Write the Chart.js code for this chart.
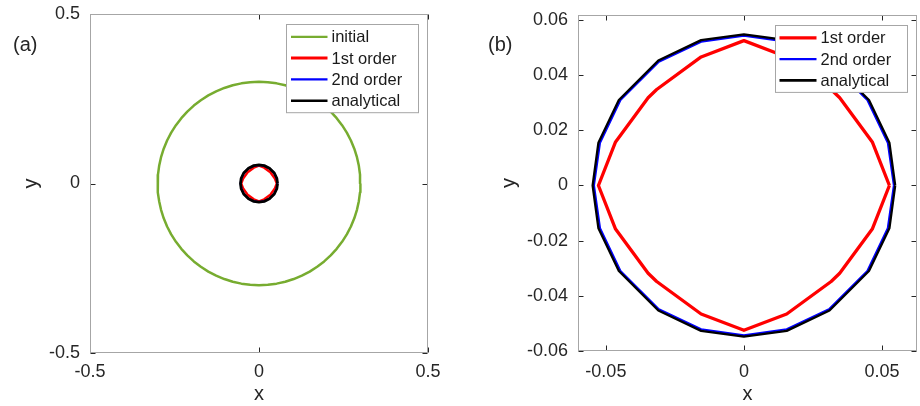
<!DOCTYPE html>
<html><head><meta charset="utf-8">
<script src="https://cdn.jsdelivr.net/npm/chart.js@4"></script>
<style>
html,body{margin:0;padding:0;background:#fff;width:920px;height:406px;overflow:hidden}
.w{position:absolute;top:0;width:460px;height:406px}
#wa{left:0}
#wb{left:460px}
</style></head><body>
<div class="w" id="wa"><canvas id="ca" width="460" height="406"></canvas></div>
<div class="w" id="wb"><canvas id="cb" width="460" height="406"></canvas></div>
<script>
// ---- data ----
const seriesNames = ['initial', '1st order', '2nd order', 'analytical'];

const initialX = [
  0.3000, 0.2989, 0.2954, 0.2898, 0.2819, 0.2719, 0.2598, 0.2457, 0.2298, 0.2121, 0.1928, 0.1721, 0.1500, 0.1268, 0.1026, 0.0776, 0.0521, 0.0261, 0.0000,
  -0.0261, -0.0521, -0.0776, -0.1026, -0.1268, -0.1500, -0.1721, -0.1928, -0.2121, -0.2298, -0.2457, -0.2598, -0.2719, -0.2819, -0.2898, -0.2954, -0.2989, -0.3000,
  -0.2989, -0.2954, -0.2898, -0.2819, -0.2719, -0.2598, -0.2457, -0.2298, -0.2121, -0.1928, -0.1721, -0.1500, -0.1268, -0.1026, -0.0776, -0.0521, -0.0261, 0.0000,
  0.0261, 0.0521, 0.0776, 0.1026, 0.1268, 0.1500, 0.1721, 0.1928, 0.2121, 0.2298, 0.2457, 0.2598, 0.2719, 0.2819, 0.2898, 0.2954, 0.2989, 0.3000];
const initialY = [
  0.0000, 0.0261, 0.0521, 0.0776, 0.1026, 0.1268, 0.1500, 0.1721, 0.1928, 0.2121, 0.2298, 0.2457, 0.2598, 0.2719, 0.2819, 0.2898, 0.2954, 0.2989, 0.3000,
  0.2989, 0.2954, 0.2898, 0.2819, 0.2719, 0.2598, 0.2457, 0.2298, 0.2121, 0.1928, 0.1721, 0.1500, 0.1268, 0.1026, 0.0776, 0.0521, 0.0261, 0.0000,
  -0.0261, -0.0521, -0.0776, -0.1026, -0.1268, -0.1500, -0.1721, -0.1928, -0.2121, -0.2298, -0.2457, -0.2598, -0.2719, -0.2819, -0.2898, -0.2954, -0.2989, -0.3000,
  -0.2989, -0.2954, -0.2898, -0.2819, -0.2719, -0.2598, -0.2457, -0.2298, -0.2121, -0.1928, -0.1721, -0.1500, -0.1268, -0.1026, -0.0776, -0.0521, -0.0261, 0.0000];

const firstX = [0.0527, 0.0465, 0.0347, 0.0316, 0.0155, 0.0000, -0.0155, -0.0316, -0.0347, -0.0465, -0.0527,
  -0.0465, -0.0347, -0.0316, -0.0155, 0.0000, 0.0155, 0.0316, 0.0347, 0.0465, 0.0527];
const firstY = [0.0000, 0.0158, 0.0318, 0.0348, 0.0466, 0.0525, 0.0466, 0.0348, 0.0318, 0.0158, 0.0000,
  -0.0158, -0.0318, -0.0348, -0.0466, -0.0525, -0.0466, -0.0348, -0.0318, -0.0158, 0.0000];

const secondX = [0.0543, 0.0521, 0.0447, 0.0310, 0.0155, 0.0000, -0.0155, -0.0310, -0.0447, -0.0521, -0.0543,
  -0.0521, -0.0447, -0.0310, -0.0155, 0.0000, 0.0155, 0.0310, 0.0447, 0.0521, 0.0543];
const secondY = [0.0000, 0.0155, 0.0310, 0.0447, 0.0521, 0.0543, 0.0521, 0.0447, 0.0310, 0.0155, 0.0000,
  -0.0155, -0.0310, -0.0447, -0.0521, -0.0543, -0.0521, -0.0447, -0.0310, -0.0155, 0.0000];

const analyticX = [0.0548, 0.0527, 0.0453, 0.0310, 0.0155, 0.0000, -0.0155, -0.0310, -0.0453, -0.0527, -0.0548,
  -0.0527, -0.0453, -0.0310, -0.0155, 0.0000, 0.0155, 0.0310, 0.0453, 0.0527, 0.0548];
const analyticY = [0.0000, 0.0155, 0.0310, 0.0453, 0.0527, 0.0548, 0.0527, 0.0453, 0.0310, 0.0155, 0.0000,
  -0.0155, -0.0310, -0.0453, -0.0527, -0.0548, -0.0527, -0.0453, -0.0310, -0.0155, 0.0000];

const xTicksA = [-0.5, 0, 0.5];
const yTicksA = [-0.5, 0, 0.5];
const xTicksB = [-0.05, 0, 0.05];
const yTicksB = [-0.06, -0.04, -0.02, 0, 0.02, 0.04, 0.06];

// ---- helpers ----
const pts = (xs, ys) => xs.map((x, i) => ({x: x, y: ys[i]}));
const FONT = "'Liberation Sans', Arial, Helvetica, sans-serif";
const TXT = '#262626';
const fmt = v => Number(Number(v).toFixed(4)).toString();

const framePlugin = {
  id: 'frame',
  afterDatasetsDraw(chart, args, o) {
    const {ctx, chartArea: a, scales} = chart;
    ctx.save();
    const L = Math.round(a.left) + 0.5, R = Math.round(a.right) - 0.5;
    const T = Math.round(a.top) + 0.5, B = Math.round(a.bottom) - 0.5;
    ctx.strokeStyle = '#262626'; ctx.lineWidth = 1;
    ctx.beginPath();
    scales.x.ticks.forEach(t => {
      const p = Math.round(scales.x.getPixelForValue(t.value)) + 0.5;
      ctx.moveTo(p, B); ctx.lineTo(p, B - 5); ctx.moveTo(p, T); ctx.lineTo(p, T + 5);
    });
    scales.y.ticks.forEach(t => {
      const p = Math.round(scales.y.getPixelForValue(t.value)) + 0.5;
      ctx.moveTo(L, p); ctx.lineTo(L + 5, p); ctx.moveTo(R, p); ctx.lineTo(R - 5, p);
    });
    ctx.stroke();
    ctx.strokeStyle = '#a6a6a6';
    ctx.strokeRect(L, T, R - L, B - T);
    // legend
    const lg = o.legend;
    const items = chart.data.datasets;
    const bx = Math.round(a.right - lg.dr - lg.w) + 0.5, by = Math.round(a.top + lg.dt) + 0.5;
    const bh = items.length * lg.row + 3;
    ctx.fillStyle = '#ffffff';
    ctx.fillRect(bx, by, lg.w, bh);
    ctx.strokeStyle = '#a6a6a6'; ctx.lineWidth = 1;
    ctx.strokeRect(bx, by, lg.w, bh);
    ctx.font = lg.fontSize + 'px ' + FONT;
    ctx.textBaseline = 'middle'; ctx.textAlign = 'left';
    items.forEach((d, i) => {
      const y = by + lg.first + i * lg.row;
      ctx.strokeStyle = d.borderColor; ctx.lineWidth = d.legendWidth;
      ctx.beginPath(); ctx.moveTo(bx + lg.l0, y); ctx.lineTo(bx + lg.l1, y); ctx.stroke();
      ctx.fillStyle = '#1a1a1a';
      ctx.fillText(d.label, bx + lg.tx, y + 1);
    });
    ctx.font = '20px ' + FONT; ctx.fillStyle = TXT;
    ctx.textBaseline = 'middle'; ctx.textAlign = 'left';
    ctx.fillText(o.panel, o.panelX, o.panelY);
    ctx.restore();
  }
};

function makeChart(id, datasets, g) {
  const tickFont = {family: FONT, size: 18};
  const titleFont = {family: FONT, size: 20};
  return new Chart(document.getElementById(id), {
    type: 'scatter',
    data: {datasets: datasets},
    options: {
      responsive: false, animation: false, devicePixelRatio: 1,
      layout: {padding: g.pad},
      elements: {point: {radius: 0, hoverRadius: 0}, line: {tension: 0, fill: false, borderJoinStyle: 'round'}},
      plugins: {
        legend: {display: false}, tooltip: {enabled: false},
        frame: {legend: g.legend, panel: g.panel, panelX: g.panelX, panelY: g.panelY}
      },
      scales: {
        x: {
          type: 'linear', position: 'bottom', min: g.xMin, max: g.xMax,
          afterBuildTicks: s => { s.ticks = g.xTicks.map(v => ({value: v})); },
          afterFit: s => { s.height = g.xH; s.paddingLeft = 0; s.paddingRight = 0; s.paddingTop = 0; s.paddingBottom = 0; },
          grid: {display: false, drawTicks: false}, border: {display: false},
          ticks: {font: tickFont, color: TXT, padding: g.xPad, maxRotation: 0, autoSkip: false, callback: v => fmt(v)},
          title: {display: true, text: 'x', font: titleFont, color: TXT, padding: {top: 0, bottom: 0}}
        },
        y: {
          type: 'linear', position: 'left', min: g.yMin, max: g.yMax,
          afterBuildTicks: s => { s.ticks = g.yTicks.map(v => ({value: v})); },
          afterFit: s => { s.width = g.yW; s.paddingLeft = 0; s.paddingRight = 0; s.paddingTop = 0; s.paddingBottom = 0; },
          grid: {display: false, drawTicks: false}, border: {display: false},
          ticks: {font: tickFont, color: TXT, padding: g.yPad, autoSkip: false, callback: v => fmt(v)},
          title: {display: true, text: 'y', font: titleFont, color: TXT, padding: {top: g.yTitlePad, bottom: 0}}
        }
      }
    },
    plugins: [framePlugin]
  });
}

const GREEN = '#77ac30', RED = '#ff0000', BLUE = '#0000ff', BLACK = '#000000';

makeChart('ca', [
  {label: seriesNames[0], data: pts(initialX, initialY), showLine: true, borderColor: GREEN, borderWidth: 2.5, legendWidth: 2.3, order: 4},
  {label: seriesNames[1], data: pts(firstX, firstY), showLine: true, borderColor: RED, borderWidth: 2.5, legendWidth: 3, order: 3},
  {label: seriesNames[2], data: pts(secondX, secondY), showLine: true, borderColor: BLUE, borderWidth: 2, legendWidth: 2.3, order: 2},
  {label: seriesNames[3], data: pts(analyticX, analyticY), showLine: true, borderColor: BLACK, borderWidth: 2.8, legendWidth: 2.6, order: 1}
], {
  pad: {left: 0, top: 14, right: 32, bottom: 0},
  xMin: -0.5, xMax: 0.5, yMin: -0.5, yMax: 0.5,
  xTicks: xTicksA, yTicks: yTicksA,
  xH: 53, yW: 90, xPad: 8, yPad: 10, yTitlePad: 19,
  legend: {w: 132, dr: 10, dt: 10, row: 21.3, first: 12.3, l0: 4.5, l1: 41, tx: 45, fontSize: 16.5},
  panel: '(a)', panelX: 13, panelY: 45
});

makeChart('cb', [
  {label: seriesNames[1], data: pts(firstX, firstY), showLine: true, borderColor: RED, borderWidth: 3.3, legendWidth: 3.3, order: 3},
  {label: seriesNames[2], data: pts(secondX, secondY), showLine: true, borderColor: BLUE, borderWidth: 2, legendWidth: 2.3, order: 2},
  {label: seriesNames[3], data: pts(analyticX, analyticY), showLine: true, borderColor: BLACK, borderWidth: 2.3, legendWidth: 2.6, order: 1}
], {
  pad: {left: 0, top: 15, right: 3, bottom: 0},
  xMin: -0.0601, xMax: 0.0627, yMin: -0.06, yMax: 0.0618,
  xTicks: xTicksB, yTicks: yTicksB,
  xH: 55, yW: 118, xPad: 10, yPad: 10, yTitlePad: 37,
  legend: {w: 132, dr: 10.5, dt: 10, row: 21.3, first: 12.3, l0: 4, l1: 41, tx: 45, fontSize: 16.5},
  panel: '(b)', panelX: 28, panelY: 45
});
</script>
</body></html>
